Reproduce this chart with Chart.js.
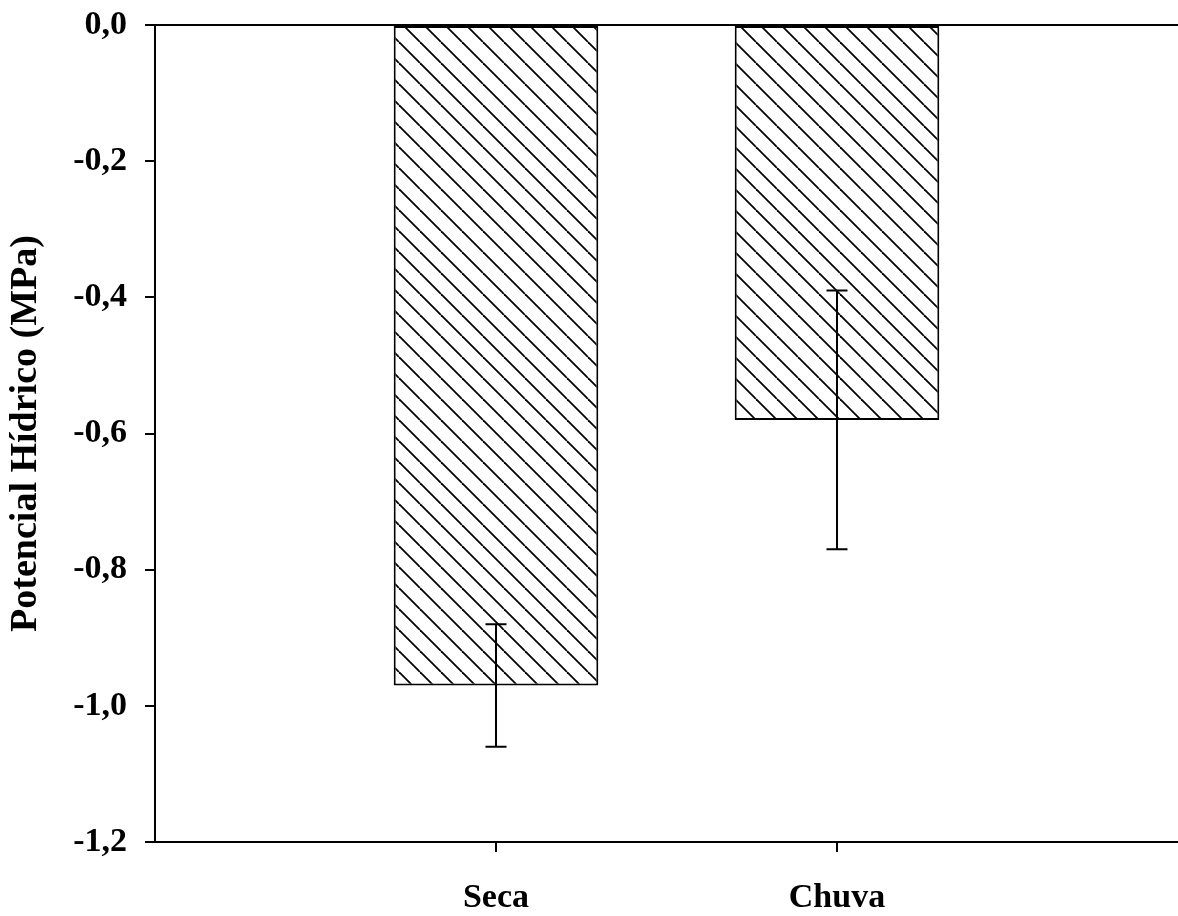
<!DOCTYPE html>
<html>
<head>
<meta charset="utf-8">
<script src="https://cdn.jsdelivr.net/npm/chart.js@4.4.1/dist/chart.umd.min.js"></script>
<style>
  html, body { margin: 0; padding: 0; background: #fff; }
  #wrap { width: 1178px; height: 916px; }
</style>
</head>
<body>
<div id="wrap"><canvas id="grafico"></canvas></div>
<script>
// dados
const categorias = ['Seca', 'Chuva'];
const potencial = [-0.97, -0.58];
const erro = [0.09, 0.19];
const ticksY = [0, -0.2, -0.4, -0.6, -0.8, -1.0, -1.2];

const fonte = '"Liberation Serif", "Times New Roman", Times, serif';
Chart.defaults.font.family = fonte;
Chart.defaults.font.weight = 'bold';
Chart.defaults.color = '#000';

// hachura diagonal "\\"
function criarHachura() {
  const s = 21;
  const c = document.createElement('canvas');
  c.width = s; c.height = s;
  const g = c.getContext('2d');
  g.fillStyle = '#fff';
  g.fillRect(0, 0, s, s);
  g.strokeStyle = '#000';
  g.lineWidth = 1.8;
  for (const k of [-1, 0, 1]) {
    g.beginPath();
    g.moveTo(k * s, 0);
    g.lineTo(k * s + s, s);
    g.stroke();
  }
  return g.createPattern(c, 'repeat');
}

// barras de erro desenhadas com as escalas do próprio gráfico
const barrasErro = {
  id: 'barrasErro',
  afterDatasetsDraw(chart) {
    const { ctx, scales: { x, y } } = chart;
    ctx.save();
    ctx.strokeStyle = '#000';
    ctx.lineWidth = 2;
    potencial.forEach((v, i) => {
      const px = x.getPixelForValue(i + 1);
      const yTop = y.getPixelForValue(v + erro[i]);
      const yBot = y.getPixelForValue(v - erro[i]);
      const cap = 10.5;
      ctx.beginPath();
      ctx.moveTo(px, yTop); ctx.lineTo(px, yBot);
      ctx.moveTo(px - cap, yTop); ctx.lineTo(px + cap, yTop);
      ctx.moveTo(px - cap, yBot); ctx.lineTo(px + cap, yBot);
      ctx.stroke();
    });
    ctx.restore();
  }
};

const ctx = document.getElementById('grafico').getContext('2d');
new Chart(ctx, {
  type: 'bar',
  data: {
    datasets: [{
      label: 'Potencial Hídrico',
      data: categorias.map((c, i) => ({ x: i + 1, y: potencial[i] })),
      backgroundColor: criarHachura(),
      borderColor: '#000',
      borderWidth: 2,
      borderSkipped: false,
      categoryPercentage: 1,
      barPercentage: 0.6,
    }],
  },
  options: {
    responsive: true,
    maintainAspectRatio: false,
    animation: false,
    layout: { padding: { top: 25, right: 0, left: 0, bottom: 0 } },
    plugins: { legend: { display: false }, tooltip: { enabled: false } },
    scales: {
      x: {
        type: 'linear',
        position: 'bottom',
        min: 0,
        max: categorias.length + 1,
        offset: false,
        afterBuildTicks: (scale) => {
          scale.ticks = categorias.map((c, i) => ({ value: i + 1 }));
        },
        afterFit: (scale) => { scale.height = 74; },
        ticks: {
          callback: (v) => categorias[v - 1] || '',
          font: { size: 34, weight: 'bold' },
          padding: 26,
          maxRotation: 0,
          autoSkip: false,
        },
        grid: { drawOnChartArea: false, offset: false, tickLength: 10, tickColor: '#000', lineWidth: 2 },
        border: { color: '#000', width: 2 },
      },
      topo: {
        type: 'linear',
        position: 'top',
        axis: 'x',
        ticks: { display: false },
        grid: { display: false },
        afterFit: (scale) => { scale.height = 0; },
        border: { color: '#000', width: 2 },
      },
      y: {
        min: -1.2,
        max: 0,
        afterBuildTicks: (scale) => {
          scale.ticks = ticksY.map(v => ({ value: v }));
        },
        afterFit: (scale) => {
          scale.width = 155;
          scale.paddingTop = 0;
          scale.paddingBottom = 0;
        },
        ticks: {
          callback: (v) => v.toFixed(1).replace('.', ','),
          font: { size: 34, weight: 'bold' },
          padding: 18,
        },
        grid: { drawOnChartArea: false, tickLength: 10, tickColor: '#000', lineWidth: 2 },
        border: { color: '#000', width: 2 },
        title: {
          display: true,
          text: 'Potencial Hídrico (MPa)',
          font: { size: 38, weight: 'bold' },
          padding: { top: 3, bottom: 0 },
        },
      },
    },
  },
  plugins: [barrasErro],
});
</script>
</body>
</html>
